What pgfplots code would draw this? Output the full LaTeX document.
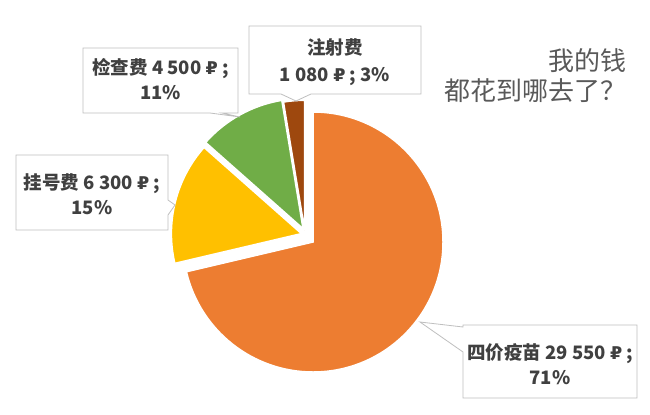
\documentclass[border=0pt]{standalone}
\usepackage{pgfplots}
\pgfplotsset{compat=1.18}
\usepackage{pgfplotstable}
\usepackage{xfp}
\usepackage{fontspec}
\setmainfont{Noto Sans CJK SC}
\newfontfamily\cjk{Noto Sans CJK SC}
\newfontfamily\rub{DejaVu Sans}[Scale=0.95]

\definecolor{vacc}{HTML}{ED7D31}
\definecolor{reg}{HTML}{FFC000}
\definecolor{exam}{HTML}{70AD47}
\definecolor{inj}{HTML}{9E480E}
\definecolor{lbl}{HTML}{404040}
\definecolor{ttl}{HTML}{595959}
\definecolor{frame}{HTML}{BFBFBF}

% cost per item (rubles); dx/dy = how far the slice is pulled out
\pgfplotstableread{
item     value dx    dy
vaccine  29550 0     0
register 6300  -11.6 8.4
exam     4500  -10.0 13.4
inject   1080  -8.3  11.7
}\costs

\newcommand\getcell[3]{\pgfplotstablegetelem{#1}{#2}\of\costs\xdef#3{\pgfplotsretval}}
\getcell{0}{value}\vA \getcell{1}{value}\vB \getcell{2}{value}\vC \getcell{3}{value}\vD
\getcell{1}{dx}\dxB \getcell{1}{dy}\dyB
\getcell{2}{dx}\dxC \getcell{2}{dy}\dyC
\getcell{3}{dx}\dxD \getcell{3}{dy}\dyD
% slice angles, clockwise from 12 o'clock, and rounded shares
\xdef\total{\fpeval{\vA+\vB+\vC+\vD}}
\xdef\aA{\fpeval{round(90-360*\vA/\total,3)}}
\xdef\aB{\fpeval{round(\aA-360*\vB/\total,3)}}
\xdef\aC{\fpeval{round(\aB-360*\vC/\total,3)}}
\xdef\aD{\fpeval{round(\aC-360*\vD/\total,3)}}
\xdef\pA{\fpeval{round(100*\vA/\total)}}
\xdef\pB{\fpeval{round(100*\vB/\total)}}
\xdef\pC{\fpeval{round(100*\vC/\total)}}
\xdef\pD{\fpeval{round(100*\vD/\total)}}

\newcommand\money[1]{\pgfmathprintnumber[fixed,precision=0,1000 sep={\ },assume math mode=true]{#1}}
\newcommand\R{130bp}
\newcommand\cx{313}
\newcommand\cy{172}
% colour, start angle, end angle, dx, dy
\newcommand\slice[5]{%
  \fill[#1, draw=white, line width=1.5bp]
    (axis cs:{\cx+#4},{\cy+#5}) -- +(#2:\R)
    arc[start angle=#2, end angle=#3, radius=\R] -- cycle;}
\newcommand\lab{\color{lbl}\bfseries\fontsize{18.5bp}{26bp}\selectfont}

\begin{document}
\begin{tikzpicture}
\begin{axis}[
    hide axis,
    scale only axis,
    x=1bp, y=1bp,
    xmin=0, xmax=650,
    ymin=0, ymax=414,
    clip=false
]
% keep the whole canvas in the bounding box
\path (axis cs:0,0) rectangle (axis cs:650,414);

\slice{vacc}{90}{\aA}{0}{0}
\slice{reg}{\aA}{\aB}{\dxB}{\dyB}
\slice{exam}{\aB}{\aC}{\dxC}{\dyC}
\slice{inj}{\aC}{\aD}{\dxD}{\dyD}

% callout boxes
\filldraw[fill=white, draw=frame, line width=0.8bp]
  (axis cs:249,320) -- (axis cs:281,320) -- (axis cs:296,313) -- (axis cs:311,320)
  -- (axis cs:421,320) -- (axis cs:421,388) -- (axis cs:249,388) -- cycle;
\filldraw[fill=white, draw=frame, line width=0.8bp]
  (axis cs:83,301) -- (axis cs:210,301) -- (axis cs:240,297) -- (axis cs:222,301)
  -- (axis cs:238,301) -- (axis cs:238,366) -- (axis cs:83,366) -- cycle;
\filldraw[fill=white, draw=frame, line width=0.8bp]
  (axis cs:16,184) -- (axis cs:168,184) -- (axis cs:168,199) -- (axis cs:175,209)
  -- (axis cs:168,214) -- (axis cs:168,259) -- (axis cs:16,259) -- cycle;
\filldraw[fill=white, draw=frame, line width=0.8bp]
  (axis cs:463,16) -- (axis cs:637,16) -- (axis cs:637,89) -- (axis cs:463,89)
  -- (axis cs:463,87) -- (axis cs:420,92) -- (axis cs:463,62) -- cycle;

% labels
\node[anchor=base, inner sep=0] at (axis cs:335,359.5) {\lab 注射费};
\node[anchor=base, inner sep=0] at (axis cs:335,332.5) {\lab\money{\vD} {\rub ₽} ; \pD\%};
\node[anchor=base, inner sep=0] at (axis cs:160.5,339.5) {\lab 检查费 \money{\vC} {\rub ₽} ;};
\node[anchor=base, inner sep=0] at (axis cs:160.5,314.5) {\lab\pC\%};
\node[anchor=base, inner sep=0] at (axis cs:92,224.5) {\lab 挂号费 \money{\vB} {\rub ₽} ;};
\node[anchor=base, inner sep=0] at (axis cs:92,199.5) {\lab\pB\%};
\node[anchor=base, inner sep=0] at (axis cs:550,54.5) {\lab 四价疫苗 \money{\vA} {\rub ₽} ;};
\node[anchor=base, inner sep=0] at (axis cs:550,29.5) {\lab\pA\%};

% title
\node[anchor=base east, inner sep=0, text=ttl, font=\cjk\fontsize{26bp}{30bp}\selectfont]
  at (axis cs:627,344) {我的钱};
\node[anchor=base east, inner sep=0, text=ttl, font=\cjk\fontsize{26bp}{30bp}\selectfont]
  at (axis cs:627,314) {都花到哪去了？};
\end{axis}
\end{tikzpicture}
\end{document}
